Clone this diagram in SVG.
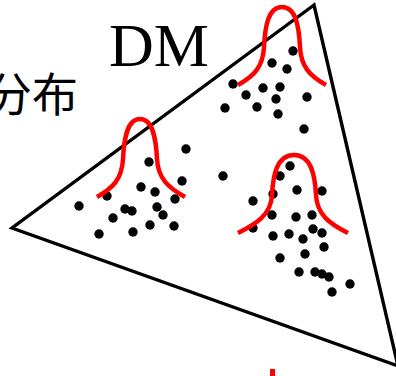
<svg xmlns="http://www.w3.org/2000/svg" width="396" height="376" viewBox="0 0 396 376">
<style>
.tri{fill:none;stroke:#000;stroke-width:3.4;stroke-linejoin:miter}
.g{fill:none;stroke:#ff0000;stroke-width:4.5;stroke-linecap:butt}
.d circle{fill:#000;r:4.7px}
.dm{font-family:"Liberation Serif","Times New Roman",serif;font-size:62px;fill:#000}
.cj{font-family:"Noto Sans CJK SC","Noto Sans",sans-serif;font-size:46px;fill:#000}
</style>
<rect width="396" height="376" fill="#fff"/>
<g id="triangle">
<polygon class="tri" points="314,5 12,228 398,366"/>
</g>
<g id="label-dm"><text class="dm" x="109" y="66">DM</text></g>
<g id="label-fenbu"><text class="cj" x="78" y="111" text-anchor="end">分布</text></g>
<g id="dots" class="d">
<circle cx="186" cy="149" r="4.7"/><circle cx="149" cy="162" r="4.7"/><circle cx="182" cy="181" r="4.7"/>
<circle cx="141" cy="187" r="4.7"/><circle cx="155" cy="192" r="4.7"/><circle cx="107" cy="196" r="4.7"/>
<circle cx="175" cy="199" r="4.7"/><circle cx="79" cy="206" r="4.7"/><circle cx="125" cy="209" r="4.7"/>
<circle cx="132" cy="211" r="4.7"/><circle cx="157" cy="207" r="4.7"/><circle cx="163" cy="215" r="4.7"/>
<circle cx="113" cy="218" r="4.7"/><circle cx="150" cy="225" r="4.7"/><circle cx="174" cy="226" r="4.7"/>
<circle cx="133" cy="232" r="4.7"/><circle cx="99" cy="234" r="4.7"/>
<circle cx="293" cy="51" r="4.7"/><circle cx="272" cy="63" r="4.7"/><circle cx="287" cy="69" r="4.7"/>
<circle cx="233" cy="84" r="4.7"/><circle cx="263" cy="88" r="4.7"/><circle cx="280" cy="87" r="4.7"/>
<circle cx="246" cy="95" r="4.7"/><circle cx="276" cy="99" r="4.7"/><circle cx="307" cy="97" r="4.7"/>
<circle cx="225" cy="108" r="4.7"/><circle cx="257" cy="107" r="4.7"/><circle cx="278" cy="114" r="4.7"/>
<circle cx="304" cy="129" r="4.7"/>
<circle cx="223" cy="176" r="4.7"/><circle cx="290" cy="166" r="4.7"/><circle cx="280" cy="176" r="4.7"/>
<circle cx="297" cy="190" r="4.7"/><circle cx="322" cy="191" r="4.7"/><circle cx="273" cy="194" r="4.7"/>
<circle cx="253" cy="201" r="4.7"/><circle cx="272" cy="215" r="4.7"/><circle cx="296" cy="217" r="4.7"/>
<circle cx="312" cy="215" r="4.7"/><circle cx="253" cy="228" r="4.7"/><circle cx="313" cy="229" r="4.7"/>
<circle cx="322" cy="233" r="4.7"/><circle cx="273" cy="236" r="4.7"/><circle cx="289" cy="234" r="4.7"/>
<circle cx="303" cy="239" r="4.7"/><circle cx="324" cy="247" r="4.7"/><circle cx="305" cy="254" r="4.7"/>
<circle cx="280" cy="258" r="4.7"/><circle cx="299" cy="272" r="4.7"/><circle cx="315" cy="272" r="4.7"/>
<circle cx="322" cy="274" r="4.7"/><circle cx="329" cy="277" r="4.7"/><circle cx="350" cy="284" r="4.7"/>
<circle cx="332" cy="292" r="4.7"/>
</g>
<g id="gauss-left"><path class="g" d="M97,197 C113,188 122,179 123,159 C124,139 127,119 140,119 C153,119 156,139 157,159 C158,179 169,188 185,197"/></g>
<g id="gauss-top"><path class="g" d="M238,85 C254,76 263,67 264,47 C265,27 268,7 282,7 C296,7 299,27 300,47 C301,67 310,76 326,85"/></g>
<g id="gauss-bottom"><path class="g" d="M238,233 C256,224 271,215 272,195 C273,175 277,155 294,155 C311,155 315,175 316,195 C317,215 330,224 348,233"/></g>
<g id="red-mark"><rect x="270" y="369" width="5" height="7" fill="#ff0000"/></g>
</svg>
